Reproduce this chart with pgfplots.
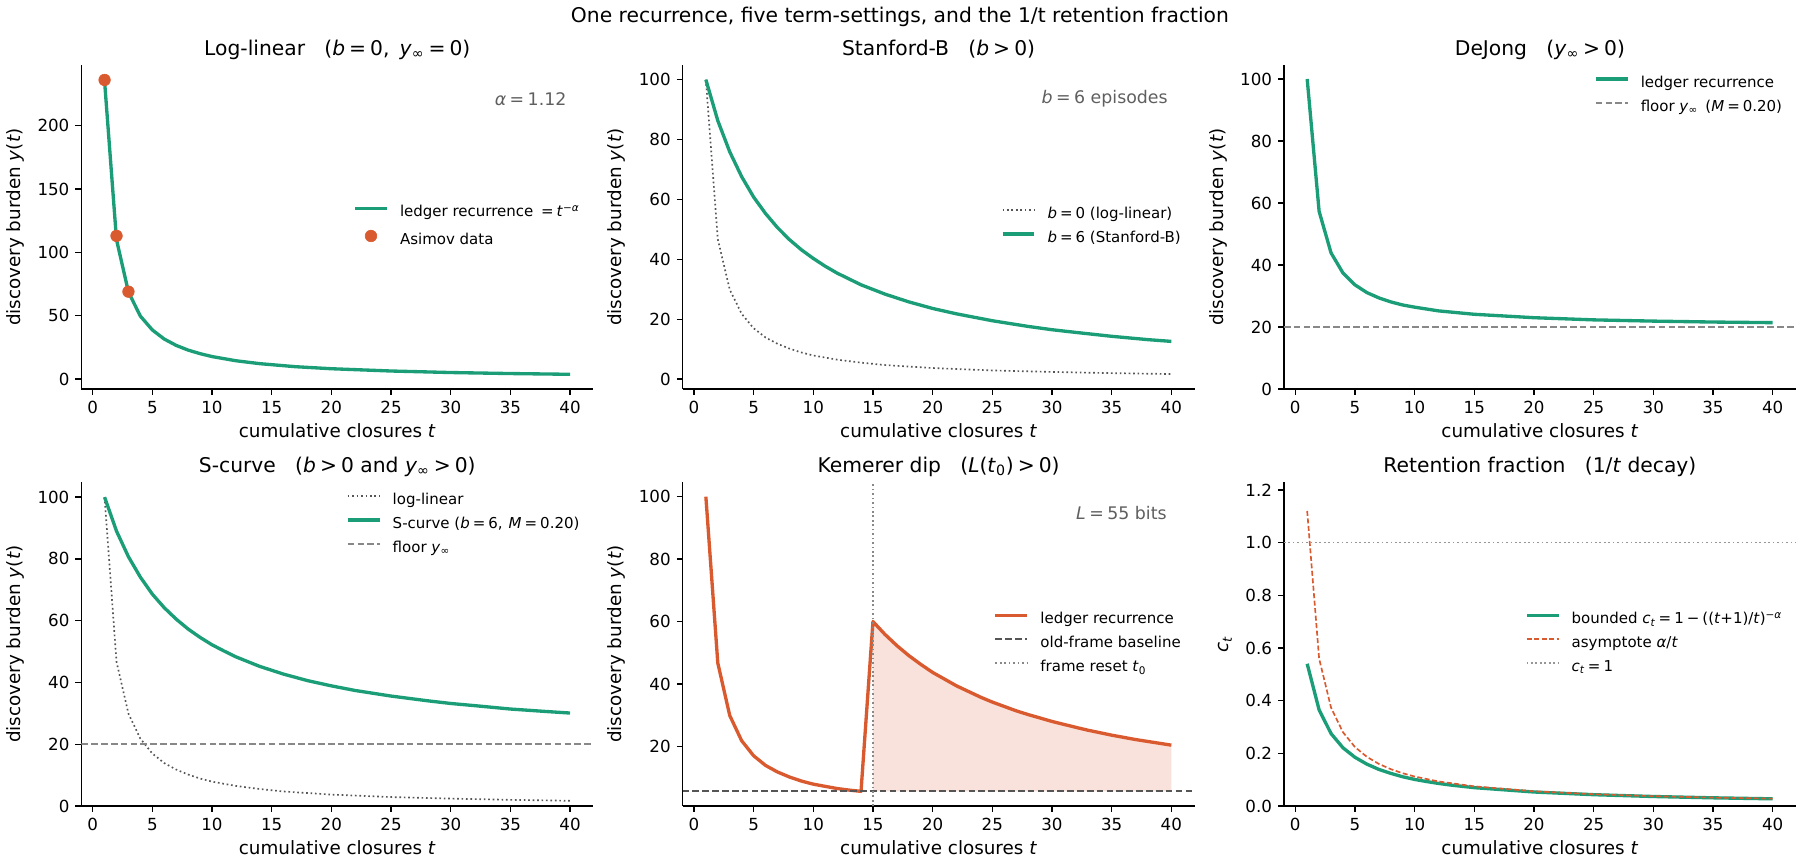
\documentclass[border=0pt]{standalone}
\usepackage{fontspec}
\setmainfont{DejaVu Sans}
\usepackage{pgfplots}
\pgfplotsset{compat=1.18}

\definecolor{cgreen}{RGB}{27,158,119}
\definecolor{corange}{RGB}{218,90,48}
\definecolor{cfill}{RGB}{249,226,219}
\definecolor{cdark}{RGB}{85,85,85}
\definecolor{cmid}{RGB}{136,136,136}
\definecolor{clight}{RGB}{150,150,150}
\definecolor{ctext}{RGB}{95,95,95}

\newcommand\eq{\kern0.2em=\kern0.2em}
\newcommand\gt{\kern0.2em>\kern0.2em}
\newcommand\mi[1]{\textit{#1}}
\newcommand\yinf{\mi{y}\textsubscript{∞}}
\newcommand\fs[1]{\fontsize{#1}{1.2\dimexpr #1pt\relax}\selectfont}

\tikzset{note/.style={anchor=east, text=ctext, font=\fs{12.5}}}

\pgfplotsset{
  panel/.style={
    scale only axis, width=368.64pt, height=233.28pt,
    xmin=-0.95, xmax=41.95,
    axis x line*=bottom, axis y line*=left,
    axis line style={line width=0.96pt, black, -},
    tick align=outside, major tick length=4.2pt,
    tick style={black, line width=0.96pt},
    xtick={0,5,...,40},
    minor tick num=0,
    tick label style={font=\fs{12}, inner sep=0pt},
    xticklabel style={yshift=-4.6pt},
    yticklabel style={xshift=-4.2pt},
    /pgf/number format/assume math mode=true,
    scaled ticks=false,
    xlabel={cumulative closures \mi{t}},
    ylabel={discovery burden \mi{y}(\mi{t})},
    every axis x label/.style={at={(axis description cs:0.5,0)}, anchor=base, yshift=-35pt, font=\fs{13.2}},
    every axis y label/.style={at={(axis description cs:-0.1188,0.5)}, anchor=base, rotate=90, font=\fs{13.2}},
    every axis title/.style={at={(axis description cs:0.5,1)}, anchor=base, yshift=7.2pt, font=\fs{14.6}},
    legend style={draw=none, fill=none, inner sep=0pt, outer sep=0pt, font=\fs{10.8},
      nodes={inner sep=0pt, text height=0.76em, text depth=0.24em}, row sep=7.2pt,
      /tikz/every odd column/.append style={column sep=8.2pt}},
    legend cell align=left,
    legend image code/.code={\draw[##1] (0pt,3.5pt) -- (23pt,3.5pt);},
  },
  dotlegend/.style={legend image code/.code={\draw[##1] plot coordinates {(11.5pt,3.5pt)};}},
  gline/.style={cgreen, line width=2.4pt, line join=round},
  dotl/.style={line width=1.2pt, dash pattern=on 1.2pt off 2pt},
  dashl/.style={line width=1.4pt, dash pattern=on 4.8pt off 2.3pt},
}

\begin{document}
\begin{tikzpicture}
\useasboundingbox (0,0) rectangle (1296pt,-622.08pt);
\node[anchor=base, font=\fs{14.6}] at (648pt,-16.2pt) {One recurrence, five term-settings, and the 1/t retention fraction};

% ---------- Panel 1 ----------
\begin{axis}[panel, at={(58.54pt,-46.8pt)}, anchor=north west,
  ymin=-7.8, ymax=247.8, ytick={0,50,...,200},
  title={Log-linear\hspace{0.95em}(\mi{b}\eq 0,\hspace{0.5em}\yinf\eq 0)},
  legend style={at={(axis description cs:0.973,0.5)}, anchor=east}]
\addplot[gline] coordinates {(1,235) (2,110) (3,68.7) (4,49.7) (5,38.8) (6,31.6) (7,26.6) (8,22.9) (9,20.1) (10,17.8) (12,14.5) (14,12.2) (17,9.8) (20,8.2) (25,6.4) (30,5.2) (35,4.4) (40,3.8)};
\addlegendentry{ledger recurrence \eq\mi{t}\textsuperscript{−\mi{α}}}
\addplot[only marks, mark=*, mark size=4.2pt, corange, dotlegend]
  coordinates {(1,236) (2,113) (3,69)};
\addlegendentry{Asimov data}
\node[note] at (axis description cs:0.957,0.895) {\mi{α}\eq 1.12};
\end{axis}

% ---------- Panel 2 ----------
\begin{axis}[panel, at={(491.47pt,-46.8pt)}, anchor=north west,
  ymin=-3.3, ymax=104.9, ytick={0,20,...,100},
  title={Stanford-B\hspace{0.95em}(\mi{b}\gt 0)},
  legend style={at={(axis description cs:0.973,0.5)}, anchor=east}]
\addplot[cdark, dotl] coordinates {(1,100) (2,46.7) (3,29.9) (4,21.8) (5,17.0) (6,13.9) (7,11.8) (8,10.2) (9,8.9) (10,7.9) (12,6.5) (14,5.5) (16,4.7) (20,3.7) (25,2.9) (30,2.4) (35,2.0) (40,1.7)};
\addlegendentry{\mi{b}\eq 0 (log-linear)}
\addplot[gline] coordinates {(1,100) (2,86.3) (3,75.9) (4,67.6) (5,60.8) (6,55.3) (7,50.6) (8,46.6) (9,43.2) (10,40.3) (11,37.7) (12,35.4) (14,31.5) (16,28.4) (18,25.8) (20,23.6) (22,21.8) (25,19.5) (28,17.6) (30,16.5) (32,15.6) (35,14.3) (38,13.2) (40,12.6)};
\addlegendentry{\mi{b}\eq 6 (Stanford-B)}
\node[note] at (axis description cs:0.957,0.895) {\mi{b}\eq 6 episodes};
\end{axis}

% ---------- Panel 3 ----------
\begin{axis}[panel, at={(924.41pt,-46.8pt)}, anchor=north west,
  ymin=0, ymax=104.5, ytick={0,20,...,100},
  title={DeJong\hspace{0.95em}(\yinf\gt 0)},
  legend style={at={(axis description cs:0.973,0.963)}, anchor=north east}]
\addplot[gline] coordinates {(1,100) (2,57.3) (3,43.9) (4,37.4) (5,33.6) (6,31.1) (7,29.4) (8,28.1) (9,27.1) (10,26.4) (12,25.2) (15,24.1) (20,23.0) (25,22.3) (30,21.9) (35,21.6) (40,21.4)};
\addlegendentry{ledger recurrence}
\addplot[cmid, dashl] coordinates {(-0.95,20) (41.95,20)};
\addlegendentry{floor \yinf\hspace{0.5em}(\mi{M}\eq 0.20)}
\end{axis}

% ---------- Panel 4 ----------
\begin{axis}[panel, at={(58.54pt,-347.04pt)}, anchor=north west,
  ymin=0, ymax=104.9, ytick={0,20,...,100},
  title={S-curve\hspace{0.95em}(\mi{b}\gt 0 and \yinf\gt 0)},
  legend style={at={(axis description cs:0.973,0.963)}, anchor=north east}]
\addplot[cdark, dotl] coordinates {(1,100) (2,46.7) (3,29.9) (4,21.8) (5,17.0) (6,13.9) (7,11.8) (8,10.2) (9,8.9) (10,7.9) (12,6.5) (14,5.5) (16,4.7) (20,3.7) (25,2.9) (30,2.4) (35,2.0) (40,1.7)};
\addlegendentry{log-linear}
\addplot[gline] coordinates {(1,100) (2,89.0) (3,80.7) (4,74.1) (5,68.6) (6,64.2) (7,60.5) (8,57.3) (9,54.6) (10,52.2) (11,50.2) (12,48.3) (14,45.2) (16,42.7) (18,40.6) (20,38.9) (22,37.4) (25,35.6) (28,34.1) (30,33.2) (32,32.5) (35,31.4) (38,30.6) (40,30.1)};
\addlegendentry{S-curve (\mi{b}\eq 6,\hspace{0.4em}\mi{M}\eq 0.20)}
\addplot[cmid, dashl] coordinates {(-0.95,20) (41.95,20)};
\addlegendentry{floor \yinf}
\end{axis}

% ---------- Panel 5 ----------
\begin{axis}[panel, at={(491.47pt,-347.04pt)}, anchor=north west,
  ymin=0.9, ymax=104.7, ytick={20,40,...,100},
  title={Kemerer dip\hspace{0.95em}(\mi{L}(\mi{t}\textsubscript{0})\gt 0)},
  legend style={at={(axis description cs:0.973,0.5)}, anchor=east}]
\addplot[fill=cfill, draw=none, forget plot] coordinates {(15,5.6) (15,60) (16,55.9) (17,52.3) (18,49.1) (19,46.3) (20,43.7) (22,39.4) (24,35.8) (25,34.2) (27,31.4) (28,30.2) (30,28.0) (32,26.1) (33,25.2) (35,23.6) (37,22.2) (40,20.4) (40,5.6)} -- cycle;
\addplot[corange, line width=2.4pt, line join=round] coordinates {(1,100) (2,46.7) (3,29.9) (4,21.8) (5,17.0) (6,13.9) (7,11.8) (8,10.2) (9,8.9) (10,7.9) (11,7.2) (12,6.5) (13,6.0) (14,5.6) (15,60) (16,55.9) (17,52.3) (18,49.1) (19,46.3) (20,43.7) (22,39.4) (24,35.8) (25,34.2) (27,31.4) (28,30.2) (30,28.0) (32,26.1) (33,25.2) (35,23.6) (37,22.2) (40,20.4)};
\addlegendentry{ledger recurrence}
\addplot[cdark, dashl] coordinates {(-0.95,5.6) (41.95,5.6)};
\addlegendentry{old-frame baseline}
\addplot[cmid, dotl] coordinates {(15,0.9) (15,104.7)};
\addlegendentry{frame reset \mi{t}\textsubscript{0}}
\node[note] at (axis description cs:0.955,0.904) {\mi{L}\eq 55 bits};
\end{axis}

% ---------- Panel 6 ----------
\begin{axis}[panel, at={(924.41pt,-347.04pt)}, anchor=north west,
  ymin=0, ymax=1.23, ytick={0,0.2,0.4,0.6,0.8,1.0,1.2},
  yticklabel style={/pgf/number format/.cd, fixed, fixed zerofill, precision=1},
  ylabel={\mi{c}\textsubscript{\mi{t}}},
  every axis y label/.style={at={(axis description cs:-0.1078,0.5)}, anchor=base, rotate=90, font=\fs{13.2}},
  title={Retention fraction\hspace{0.95em}(1/\mi{t} decay)},
  legend style={at={(axis description cs:0.973,0.5)}, anchor=east}]
\addplot[gline] coordinates {(1,0.540) (2,0.365) (3,0.275) (4,0.221) (5,0.185) (6,0.159) (7,0.139) (8,0.124) (9,0.111) (10,0.101) (11,0.0929) (12,0.0858) (13,0.0797) (15,0.0697) (20,0.0532) (25,0.0430) (30,0.0361) (35,0.0311) (40,0.0273)};
\addlegendentry{bounded \mi{c}\textsubscript{\mi{t}}\eq 1\kern0.2em−\kern0.2em((\mi{t}+1)/\mi{t})\textsuperscript{−\mi{α}}}
\addplot[corange, line width=1.2pt, dash pattern=on 3.6pt off 1.8pt] coordinates {(1,1.12) (2,0.56) (3,0.3733) (4,0.28) (5,0.224) (6,0.1867) (7,0.16) (8,0.14) (9,0.1244) (10,0.112) (12,0.0933) (15,0.0747) (20,0.056) (25,0.0448) (30,0.0373) (35,0.032) (40,0.028)};
\addlegendentry{asymptote \mi{α}/\mi{t}}
\addplot[clight, dotl] coordinates {(-0.95,1) (41.95,1)};
\addlegendentry{\mi{c}\textsubscript{\mi{t}}\eq 1}
\end{axis}
\end{tikzpicture}
\end{document}
